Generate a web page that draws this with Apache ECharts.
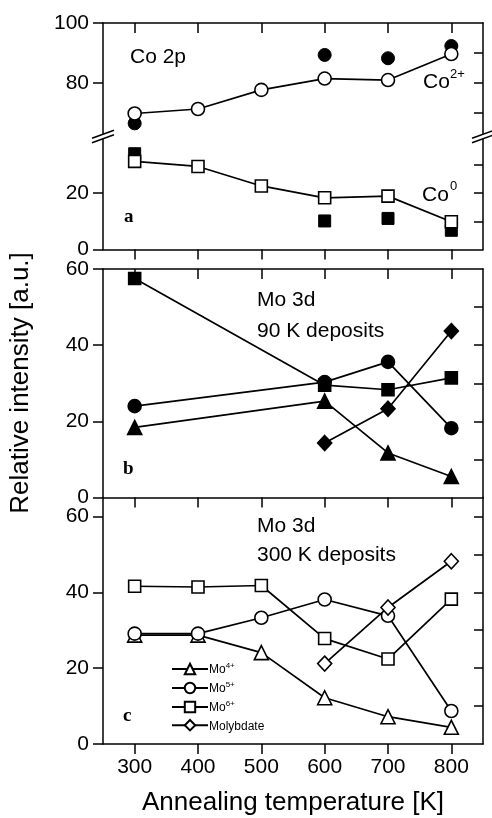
<!DOCTYPE html>
<html>
<head>
<meta charset="utf-8">
<script src="https://cdn.jsdelivr.net/npm/echarts@6/dist/echarts.min.js"></script>
<style>
  html, body { margin: 0; padding: 0; background: #fff; }
  #chart { width: 492px; height: 818px; }
</style>
</head>
<body>
<div id="chart"></div>
<script>
// Annealing temperatures [K]
const temps = [300, 400, 500, 600, 700, 800];
const tempsSparse = [300, 600, 700, 800];
const tempsLate = [600, 700, 800];
const xTickValues = [300, 400, 500, 600, 700, 800];

// (a) Co 2p: open = one series, filled = second series
const co2Open = [69.7, 71.2, 77.6, 81.4, 80.9, 89.6];
const co2Filled = [66.4, 89.3, 88.2, 92.3];
const co0Open = [31.2, 29.4, 22.5, 18.3, 18.9, 9.8];
const co0Filled = [33.9, 10.1, 11.0, 6.8];

// (b) Mo 3d, 90 K deposits
const bMo4 = [18.4, 25.3, 11.7, 5.5];
const bMo5 = [24.0, 30.3, 35.6, 18.2];
const bMo6 = [57.5, 29.5, 28.3, 31.4];
const bMolybdate = [14.3, 23.3, 43.7];

// (c) Mo 3d, 300 K deposits
const cMo4 = [28.7, 28.7, 24.1, 12.2, 7.2, 4.4];
const cMo5 = [29.1, 29.1, 33.3, 38.1, 33.8, 8.7];
const cMo6 = [41.6, 41.4, 41.8, 27.8, 22.4, 38.2];
const cMolybdate = [21.2, 36.0, 48.2];

// Tick labels
const yLabelsCoHigh = [80, 100];
const yLabelsCoLow = [0, 20];
const yLabelsMo = [0, 20, 40, 60];
const yMinorCoHigh = [70, 80, 90];
const yMinorCoLow = [10, 20, 30];
const yMinorMoB = [10, 20, 30, 40, 50];
const yMinorMoC = [10, 20, 30, 40, 50, 60];

const FONT = '"Liberation Sans", Arial, Helvetica, sans-serif';
const BLACK = '#000';
const AXIS_W = 1.5;

const zip = (xs, ys) => xs.map((x, i) => [x, ys[i]]);

function xAxisDef(gridIndex, position, inside, showLabels) {
  return {
    type: 'value', gridIndex, position, min: 250, max: 850,
    axisLine: { show: true, onZero: false, lineStyle: { color: BLACK, width: AXIS_W } },
    axisTick: { show: true, inside, length: 10, customValues: xTickValues,
                lineStyle: { color: BLACK, width: AXIS_W } },
    axisLabel: { show: showLabels, customValues: xTickValues, color: BLACK,
                 fontFamily: FONT, fontSize: 21, margin: 13 },
    splitLine: { show: false }
  };
}

function yLeft(gridIndex, min, max, labels) {
  return {
    type: 'value', gridIndex, position: 'left', min, max,
    axisLine: { show: true, onZero: false, lineStyle: { color: BLACK, width: AXIS_W } },
    axisTick: { show: true, inside: false, length: 10, customValues: labels,
                lineStyle: { color: BLACK, width: AXIS_W } },
    axisLabel: { show: true, customValues: labels, color: BLACK,
                 fontFamily: FONT, fontSize: 21, margin: 14 },
    splitLine: { show: false }
  };
}

function yRight(gridIndex, min, max, ticks) {
  return {
    type: 'value', gridIndex, position: 'right', min, max,
    axisLine: { show: true, onZero: false, lineStyle: { color: BLACK, width: AXIS_W } },
    axisTick: { show: true, inside: true, length: 9, customValues: ticks,
                lineStyle: { color: BLACK, width: AXIS_W } },
    axisLabel: { show: false },
    splitLine: { show: false }
  };
}

const SYM = {
  circle: { symbol: 'circle', size: 13 },
  square: { symbol: 'rect', size: 12 },
  triangle: { symbol: 'triangle', size: 14 },
  diamond: { symbol: 'diamond', size: [14, 15] }
};

function lineSeries(name, data, shape, filled, xi, yi) {
  return {
    type: 'line', name, data, xAxisIndex: xi, yAxisIndex: yi,
    symbol: SYM[shape].symbol, symbolSize: SYM[shape].size, showAllSymbol: true,
    lineStyle: { color: BLACK, width: 1.7 },
    itemStyle: { color: filled ? BLACK : '#fff', borderColor: BLACK, borderWidth: 1.6, opacity: 1 },
    emphasis: { disabled: true }, z: 3
  };
}

function dotSeries(name, data, shape, xi, yi) {
  return {
    type: 'scatter', name, data, xAxisIndex: xi, yAxisIndex: yi,
    symbol: SYM[shape].symbol, symbolSize: SYM[shape].size,
    itemStyle: { color: BLACK, borderColor: BLACK, borderWidth: 1, opacity: 1 },
    emphasis: { disabled: true }, z: 2
  };
}

const chart = echarts.init(document.getElementById('chart'), null, { renderer: 'canvas' });

const supRich = {
  b: { fontFamily: FONT, fontSize: 12, color: BLACK, lineHeight: 14, verticalAlign: 'bottom' },
  s: { fontFamily: FONT, fontSize: 8, color: BLACK, lineHeight: 14, verticalAlign: 'top' }
};

const option = {
  backgroundColor: '#fff',
  animation: false,
  grid: [
    { left: 103, width: 380, top: 23, height: 113.5 },     // Co 2p, upper part
    { left: 103, width: 380, top: 136.5, height: 113 },    // Co 2p, lower part
    { left: 103, width: 380, top: 269, height: 228.5 },    // Mo 3d, 90 K
    { left: 103, width: 380, top: 497.5, height: 246.5 }   // Mo 3d, 300 K
  ],
  xAxis: [
    xAxisDef(0, 'top', true, false),
    xAxisDef(1, 'bottom', false, false),
    xAxisDef(2, 'top', true, false),
    xAxisDef(2, 'bottom', false, false),
    Object.assign(xAxisDef(3, 'bottom', false, true), {
      name: 'Annealing temperature [K]', nameLocation: 'middle', nameGap: 46,
      nameTextStyle: { fontFamily: FONT, fontSize: 26, color: BLACK }
    })
  ],
  yAxis: [
    yLeft(0, 62, 100, yLabelsCoHigh),
    yRight(0, 62, 100, yMinorCoHigh),
    yLeft(1, 0, 40, yLabelsCoLow),
    yRight(1, 0, 40, yMinorCoLow),
    yLeft(2, 0, 60, yLabelsMo),
    yRight(2, 0, 60, yMinorMoB),
    yLeft(3, 0, 65, yLabelsMo),
    yRight(3, 0, 65, yMinorMoC)
  ],
  legend: {
    orient: 'vertical', left: 166, top: 657,
    itemWidth: 36, itemHeight: 13, itemGap: 5,
    selectedMode: false,
    data: ['Mo4+', 'Mo5+', 'Mo6+', 'Molybdate'],
    formatter: name => {
      const m = name.match(/^Mo(\d\+)$/);
      return m ? '{b|Mo}{s|' + m[1] + '}' : '{b|' + name + '}';
    },
    textStyle: { color: BLACK, fontFamily: FONT, fontSize: 12, padding: [0, 0, 0, -4], rich: supRich }
  },
  series: [
    // (a)
    lineSeries('Co2+', zip(temps, co2Open), 'circle', false, 0, 0),
    dotSeries('Co2+ filled', zip(tempsSparse, co2Filled), 'circle', 0, 0),
    lineSeries('Co0', zip(temps, co0Open), 'square', false, 1, 2),
    dotSeries('Co0 filled', zip(tempsSparse, co0Filled), 'square', 1, 2),
    // (b)
    lineSeries('Mo4+ 90 K', zip(tempsSparse, bMo4), 'triangle', true, 3, 4),
    lineSeries('Mo5+ 90 K', zip(tempsSparse, bMo5), 'circle', true, 3, 4),
    lineSeries('Mo6+ 90 K', zip(tempsSparse, bMo6), 'square', true, 3, 4),
    lineSeries('Molybdate 90 K', zip(tempsLate, bMolybdate), 'diamond', true, 3, 4),
    // (c)
    lineSeries('Mo4+', zip(temps, cMo4), 'triangle', false, 4, 6),
    lineSeries('Mo5+', zip(temps, cMo5), 'circle', false, 4, 6),
    lineSeries('Mo6+', zip(temps, cMo6), 'square', false, 4, 6),
    lineSeries('Molybdate', zip(tempsLate, cMolybdate), 'diamond', false, 4, 6)
  ]
};

chart.setOption(option);

// Text annotations and axis-break marks
function txt(text, x, y, size, extra) {
  return {
    type: 'text', x, y, z: 10,
    style: Object.assign({ text, fill: BLACK, font: size + 'px ' + FONT,
                           align: 'left', verticalAlign: 'middle' }, extra || {})
  };
}
function panelTag(text, x, y) {
  return txt(text, x, y, 19, { font: 'bold 19px "Liberation Serif", "Times New Roman", serif' });
}

// break position: junction of the two Co 2p grids
const pL = chart.convertToPixel({ xAxisIndex: 1, yAxisIndex: 2 }, [250, 40]);
const pR = chart.convertToPixel({ xAxisIndex: 1, yAxisIndex: 2 }, [850, 40]);

function breakMark(cx, cy) {
  const dx = 11, rise = 8, gap = 4.5;
  const a1 = [cx - dx, cy + rise / 2 - gap / 2], b1 = [cx + dx, cy - rise / 2 - gap / 2];
  const a2 = [cx - dx, cy + rise / 2 + gap / 2], b2 = [cx + dx, cy - rise / 2 + gap / 2];
  return [
    { type: 'polygon', z: 20, shape: { points: [a1, b1, b2, a2] },
      style: { fill: '#fff', stroke: null } },
    { type: 'line', z: 21, shape: { x1: a1[0], y1: a1[1], x2: b1[0], y2: b1[1] },
      style: { stroke: BLACK, lineWidth: 1.5 } },
    { type: 'line', z: 21, shape: { x1: a2[0], y1: a2[1], x2: b2[0], y2: b2[1] },
      style: { stroke: BLACK, lineWidth: 1.5 } }
  ];
}

const graphics = [
  // axis title
  { type: 'text', x: 21, y: 383, rotation: Math.PI / 2, z: 10,
    style: { text: 'Relative intensity [a.u.]', fill: BLACK, font: '26px ' + FONT,
             align: 'center', verticalAlign: 'middle' } },
  // (a)
  txt('Co 2p', 130, 57, 21),
  txt('Co', 423, 82, 21),
  txt('2+', 450, 74, 13),
  txt('Co', 422, 195, 21),
  txt('0', 450, 186, 13),
  panelTag('a', 124, 217),
  // (b)
  txt('Mo 3d', 257, 300, 21),
  txt('90 K deposits', 257, 331, 21),
  panelTag('b', 123, 469),
  // (c)
  txt('Mo 3d', 257, 526, 21),
  txt('300 K deposits', 257, 555, 21),
  panelTag('c', 123, 716)
].concat(breakMark(pL[0], pL[1]), breakMark(pR[0], pR[1]));

chart.setOption({ graphic: graphics });
</script>
</body>
</html>
